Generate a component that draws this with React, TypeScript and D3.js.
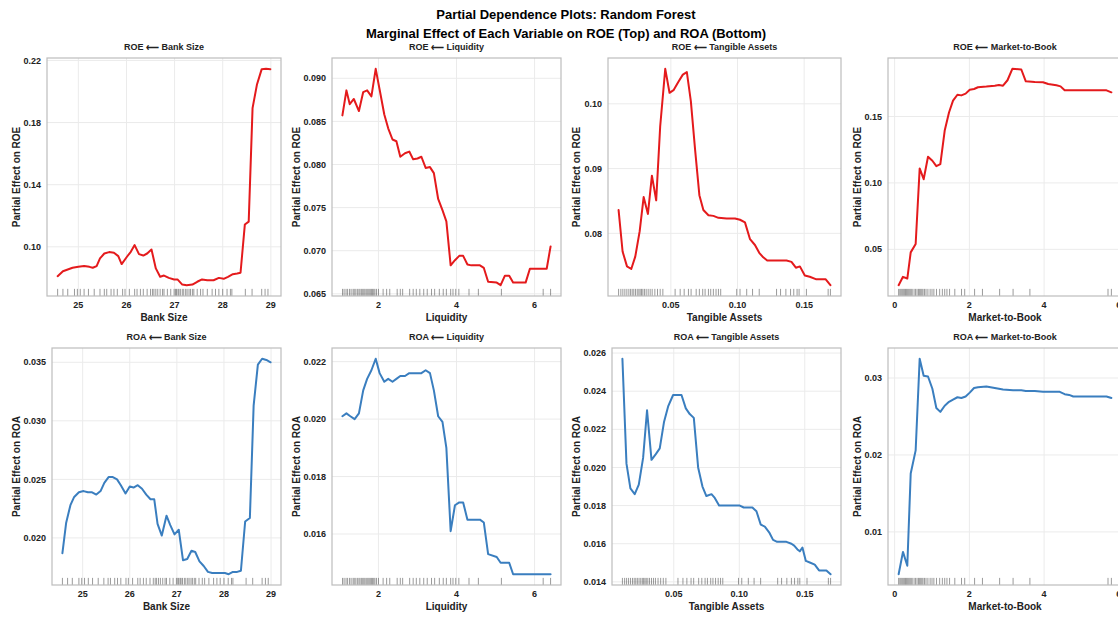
import * as d3 from 'd3';
import { useEffect, useRef } from 'react';

const W = 1118, H = 617;
const FONT = '"Liberation Sans", Arial, sans-serif';

// [grid value, partial effect]
const roeBankSize = [
  [24.57,0.0811],[24.68,0.0843],[24.78,0.0854],[24.88,0.0865],[25.0,0.0871],[25.12,0.0876],[25.23,0.0871],
  [25.30,0.0865],[25.38,0.0876],[25.45,0.0925],[25.54,0.0957],[25.64,0.0966],[25.74,0.0962],[25.83,0.0940],
  [25.90,0.0889],[26.01,0.0936],[26.09,0.0968],[26.17,0.1011],[26.26,0.0953],[26.35,0.0944],[26.43,0.0957],
  [26.52,0.0983],[26.61,0.0861],[26.70,0.0807],[26.78,0.0815],[26.88,0.0800],[26.99,0.0790],[27.06,0.0790],
  [27.16,0.0757],[27.25,0.0753],[27.37,0.0757],[27.47,0.0775],[27.57,0.0790],[27.68,0.0785],[27.81,0.0785],
  [27.92,0.0800],[28.02,0.0794],[28.11,0.0807],[28.21,0.0824],[28.30,0.0828],[28.37,0.0833],[28.46,0.1144],
  [28.54,0.1162],[28.62,0.1893],[28.71,0.2043],[28.81,0.2144],[28.90,0.2146],[28.99,0.2144],
];
const roeLiquidity = [
  [1.077,0.0857],[1.18,0.0886],[1.265,0.0870],[1.37,0.0876],[1.50,0.0862],[1.61,0.0884],[1.71,0.0886],
  [1.82,0.0879],[1.93,0.0911],[2.03,0.0887],[2.15,0.0858],[2.25,0.0842],[2.36,0.0829],[2.46,0.0827],
  [2.56,0.0809],[2.68,0.0813],[2.79,0.0815],[2.89,0.0806],[3.0,0.0807],[3.10,0.0809],[3.21,0.0796],
  [3.32,0.0797],[3.42,0.0790],[3.53,0.0760],[3.64,0.0747],[3.74,0.0734],[3.85,0.0683],[3.96,0.0689],
  [4.07,0.0694],[4.17,0.0694],[4.28,0.0684],[4.38,0.0683],[4.60,0.0683],[4.70,0.0680],[4.81,0.0664],
  [5.03,0.0663],[5.13,0.0660],[5.24,0.0671],[5.35,0.0671],[5.45,0.0663],[5.77,0.0663],[5.88,0.0679],
  [6.31,0.0679],[6.41,0.0705],
];
const roeTangible = [
  [0.0108,0.0836],[0.0138,0.0772],[0.0171,0.0749],[0.0203,0.0745],[0.0233,0.0764],[0.0266,0.0803],
  [0.0296,0.0856],[0.0328,0.0830],[0.0358,0.0889],[0.0390,0.0851],[0.0420,0.0965],[0.0458,0.1054],
  [0.0490,0.1017],[0.0520,0.1021],[0.0557,0.1034],[0.0590,0.1045],[0.0620,0.1049],[0.0650,0.1004],
  [0.0682,0.0929],[0.0714,0.0859],[0.0744,0.0836],[0.0782,0.0828],[0.0819,0.0827],[0.0857,0.0824],
  [0.0919,0.0823],[0.0981,0.0823],[0.1019,0.0821],[0.1056,0.0817],[0.1094,0.0791],[0.1131,0.0782],
  [0.1163,0.0770],[0.1193,0.0763],[0.1223,0.0758],[0.1293,0.0758],[0.1368,0.0758],[0.1405,0.0756],
  [0.1438,0.0747],[0.1468,0.0749],[0.1505,0.0735],[0.1542,0.0733],[0.1592,0.0729],[0.1662,0.0729],
  [0.1697,0.0720],
];
const roeMarketToBook = [
  [0.107,0.0230],[0.223,0.0293],[0.339,0.0280],[0.43,0.0477],[0.5625,0.0540],[0.67,0.1109],[0.777,0.1028],
  [0.893,0.1197],[1.01,0.1167],[1.116,0.1126],[1.223,0.1141],[1.34,0.1394],[1.455,0.1530],[1.5625,0.1619],
  [1.68,0.1664],[1.786,0.1659],[1.90,0.1672],[2.01,0.1702],[2.125,0.1707],[2.23,0.1720],[2.455,0.1725],
  [2.68,0.1732],[2.79,0.1737],[2.90,0.1732],[3.02,0.1773],[3.15,0.1859],[3.39,0.1854],[3.51,0.1765],
  [3.75,0.1760],[3.97,0.1758],[4.11,0.1745],[4.33,0.1735],[4.44,0.1727],[4.55,0.1697],[4.78,0.1697],
  [5.67,0.1697],[5.80,0.1682],
];
const roaBankSize = [
  [24.57,0.0187],[24.61,0.0200],[24.65,0.0213],[24.74,0.0228],[24.82,0.0235],[24.92,0.0239],[25.02,0.0240],
  [25.11,0.0239],[25.20,0.0239],[25.29,0.0237],[25.38,0.0240],[25.46,0.0247],[25.55,0.0252],[25.64,0.0252],
  [25.73,0.0250],[25.81,0.0245],[25.91,0.0238],[26.0,0.0244],[26.08,0.0243],[26.17,0.0245],[26.26,0.0242],
  [26.35,0.0237],[26.44,0.0233],[26.52,0.0233],[26.59,0.0212],[26.68,0.0202],[26.78,0.0219],[26.86,0.0211],
  [26.95,0.0203],[27.04,0.0207],[27.13,0.0181],[27.22,0.0182],[27.31,0.0189],[27.39,0.0188],[27.48,0.0180],
  [27.57,0.0176],[27.66,0.0171],[27.75,0.0170],[27.84,0.0170],[27.92,0.0170],[28.02,0.0170],[28.10,0.0169],
  [28.19,0.0171],[28.28,0.0171],[28.36,0.0172],[28.45,0.0214],[28.55,0.0217],[28.63,0.0313],[28.72,0.0348],
  [28.81,0.0353],[28.90,0.0352],[28.99,0.0350],
];
const roaLiquidity = [
  [1.077,0.0201],[1.18,0.0202],[1.28,0.0201],[1.39,0.0200],[1.50,0.0202],[1.61,0.0210],[1.71,0.0214],
  [1.82,0.0217],[1.93,0.0221],[2.03,0.0216],[2.15,0.0213],[2.25,0.0214],[2.36,0.0213],[2.46,0.0214],
  [2.56,0.0215],[2.68,0.0215],[2.79,0.0216],[2.89,0.0216],[3.0,0.0216],[3.10,0.0216],[3.21,0.0217],
  [3.32,0.0216],[3.42,0.0210],[3.53,0.0201],[3.64,0.0199],[3.74,0.0190],[3.85,0.0161],[3.96,0.0170],
  [4.07,0.0171],[4.17,0.0171],[4.28,0.0165],[4.38,0.0165],[4.60,0.0165],[4.70,0.0164],[4.81,0.0153],
  [5.03,0.0152],[5.13,0.0150],[5.35,0.0150],[5.45,0.0146],[5.77,0.0146],[5.88,0.0146],[6.41,0.0146],
];
const roaTangible = [
  [0.0108,0.0257],[0.0139,0.0202],[0.0169,0.0189],[0.0202,0.0186],[0.0233,0.0191],[0.0266,0.0205],
  [0.0296,0.0230],[0.0330,0.0204],[0.0363,0.0207],[0.0393,0.0210],[0.0426,0.0224],[0.0457,0.0232],
  [0.0495,0.0238],[0.0525,0.0238],[0.0559,0.0238],[0.0592,0.0231],[0.0622,0.0228],[0.0653,0.0226],
  [0.0686,0.0200],[0.0719,0.0190],[0.0749,0.0185],[0.0788,0.0186],[0.0813,0.0184],[0.0846,0.0180],
  [0.0902,0.0180],[0.0966,0.0180],[0.1004,0.0180],[0.1034,0.0179],[0.1067,0.0179],[0.1100,0.0179],
  [0.1131,0.0177],[0.1164,0.0170],[0.1195,0.0169],[0.1228,0.0166],[0.1258,0.0162],[0.1289,0.0161],
  [0.1360,0.0161],[0.1398,0.0160],[0.1419,0.0159],[0.1444,0.0157],[0.1462,0.0156],[0.1482,0.0158],
  [0.1508,0.0151],[0.1543,0.0150],[0.1576,0.0149],[0.1609,0.0146],[0.1665,0.0146],[0.1697,0.0144],
];
const roaMarketToBook = [
  [0.107,0.0045],[0.223,0.0074],[0.339,0.0056],[0.43,0.0176],[0.5625,0.0206],[0.67,0.0325],[0.777,0.0303],
  [0.893,0.0302],[1.01,0.0286],[1.116,0.0261],[1.223,0.0256],[1.34,0.0264],[1.455,0.0269],[1.5625,0.0272],
  [1.68,0.0275],[1.786,0.0274],[1.90,0.0276],[2.01,0.0281],[2.125,0.0287],[2.23,0.0288],[2.455,0.0289],
  [2.68,0.0287],[2.90,0.0285],[3.17,0.0284],[3.39,0.0284],[3.51,0.0283],[3.75,0.0283],[3.97,0.0282],
  [4.42,0.0282],[4.55,0.0279],[4.67,0.0278],[4.78,0.0276],[5.67,0.0276],[5.80,0.0274],
];

// observed values for the rug
const bankSizeObs = [24.57,24.68,24.78,24.92,24.98,25.04,25.12,25.21,25.33,25.45,25.54,25.59,25.68,25.74,
  25.81,25.92,25.97,26.06,26.17,26.22,26.29,26.35,26.43,26.50,26.54,26.57,26.61,26.65,26.70,26.75,26.78,
  26.85,26.92,26.99,27.02,27.04,27.07,27.09,27.12,27.16,27.19,27.23,27.26,27.30,27.33,27.37,27.40,27.47,
  27.54,27.59,27.68,27.78,27.85,27.92,28.0,28.09,28.16,28.19,28.47,28.61,28.81,28.88,28.94];
const liquidityObs = [1.08,1.12,1.17,1.21,1.26,1.30,1.35,1.38,1.42,1.46,1.50,1.53,1.57,1.60,1.63,1.66,1.70,
  1.73,1.76,1.79,1.82,1.85,1.88,1.91,1.95,2.0,2.12,2.21,2.29,2.48,2.56,2.62,2.80,2.89,2.97,3.06,3.16,3.25,
  3.36,3.44,3.56,3.66,3.74,3.85,3.91,3.98,4.06,4.32,4.56,5.15,6.22,6.41];
const tangibleObs = [0.0108,0.0125,0.014,0.0155,0.017,0.0185,0.0198,0.021,0.0222,0.0235,0.0248,0.026,0.027,
  0.028,0.029,0.0302,0.0315,0.033,0.0345,0.036,0.038,0.040,0.042,0.044,0.0532,0.057,0.060,0.0632,0.0652,
  0.069,0.0714,0.0739,0.0757,0.0782,0.0799,0.0819,0.0839,0.0857,0.0874,0.0994,0.1019,0.1069,0.1113,0.1163,
  0.1293,0.1323,0.1363,0.1398,0.1422,0.1447,0.1462,0.1517,0.1680,0.1697];
const mtbObs = [0.107,0.14,0.17,0.20,0.23,0.26,0.29,0.32,0.35,0.38,0.41,0.44,0.47,0.52,0.56,0.60,0.64,0.67,
  0.70,0.73,0.76,0.80,0.84,0.89,0.95,1.0,1.05,1.12,1.205,1.277,1.34,1.40,1.47,1.61,1.79,1.875,2.14,2.35,
  2.81,3.17,3.62,5.71,5.80];

const variables = ['Bank Size', 'Liquidity', 'Tangible Assets', 'Market-to-Book'];
const xTicks = [[25, 26, 27, 28, 29], [2, 4, 6], [0.05, 0.10, 0.15], [0, 2, 4, 6]];
const xFormats = ['d', 'd', '.2f', 'd'];
const roeYTicks = [[0.10, 0.14, 0.18, 0.22], [0.065, 0.070, 0.075, 0.080, 0.085, 0.090], [0.08, 0.09, 0.10], [0.05, 0.10, 0.15]];
const roaYTicks = [[0.020, 0.025, 0.030, 0.035], [0.016, 0.018, 0.020, 0.022], [0.014, 0.016, 0.018, 0.020, 0.022, 0.024, 0.026], [0.01, 0.02, 0.03]];
const roeYFormats = ['.2f', '.3f', '.2f', '.2f'];
const roaYFormats = ['.3f', '.3f', '.3f', '.2f'];

const rows = [
  { target: 'ROE', color: '#e41a1c', series: [roeBankSize, roeLiquidity, roeTangible, roeMarketToBook],
    ticks: roeYTicks, fmts: roeYFormats, lefts: [47, 332, 608, 888], top: 58, bottom: 296 },
  { target: 'ROA', color: '#3a7ebf', series: [roaBankSize, roaLiquidity, roaTangible, roaMarketToBook],
    ticks: roaYTicks, fmts: roaYFormats, lefts: [52, 332, 612, 888], top: 348, bottom: 585 },
];
const rights = [281, 561, 841, 1122];
const yLabelX = [16, 296, 576, 857];
const rugs = [bankSizeObs, liquidityObs, tangibleObs, mtbObs];

const padded = (vals: number[]) => {
  const [a, b] = d3.extent(vals) as [number, number];
  const m = (b - a) * 0.05;
  return [a - m, b + m];
};

const App = () => {
  const svgRef = useRef<SVGSVGElement>(null);

  useEffect(() => {
    const svg = d3.select(svgRef.current);
    svg.selectAll('*').remove();
    svg.append('rect').attr('width', W).attr('height', H).attr('fill', '#fff');

    svg.append('text').attr('x', 566).attr('y', 14).attr('dy', '0.35em').attr('text-anchor', 'middle')
      .attr('font-size', 13).attr('font-weight', 'bold').text('Partial Dependence Plots: Random Forest');
    svg.append('text').attr('x', 566).attr('y', 33).attr('dy', '0.35em').attr('text-anchor', 'middle')
      .attr('font-size', 13).attr('font-weight', 'bold')
      .text('Marginal Effect of Each Variable on ROE (Top) and ROA (Bottom)');

    rows.forEach(row => {
      variables.forEach((v, i) => {
        const data = row.series[i];
        const left = row.lefts[i], right = rights[i];
        const x = d3.scaleLinear().domain(padded(data.map(d => d[0]))).range([left, right]);
        const y = d3.scaleLinear().domain(padded(data.map(d => d[1]))).range([row.bottom, row.top]);
        const g = svg.append('g');

        // grid
        g.selectAll('.gx').data(xTicks[i]).join('line')
          .attr('x1', d => x(d)).attr('x2', d => x(d)).attr('y1', row.top).attr('y2', row.bottom)
          .attr('stroke', '#ebebeb').attr('stroke-width', 1);
        g.selectAll('.gy').data(row.ticks[i]).join('line')
          .attr('x1', left).attr('x2', right).attr('y1', d => y(d)).attr('y2', d => y(d))
          .attr('stroke', '#ebebeb').attr('stroke-width', 1);

        // rug
        const rugH = (row.bottom - row.top) * 0.03;
        g.selectAll('.rug').data(rugs[i]).join('line')
          .attr('x1', d => x(d)).attr('x2', d => x(d)).attr('y1', row.bottom).attr('y2', row.bottom - rugH)
          .attr('stroke', '#000').attr('stroke-opacity', 0.5).attr('stroke-width', 0.8);

        // curve
        g.append('path').datum(data)
          .attr('d', d3.line<number[]>().x(d => x(d[0])).y(d => y(d[1])))
          .attr('fill', 'none').attr('stroke', row.color).attr('stroke-width', 2)
          .attr('stroke-linejoin', 'round').attr('stroke-linecap', 'round');

        // spines
        g.append('rect').attr('x', left).attr('y', row.top).attr('width', right - left)
          .attr('height', row.bottom - row.top).attr('fill', 'none').attr('stroke', '#bdbdbd').attr('stroke-width', 1.2);

        // tick labels
        const xf = d3.format(xFormats[i]);
        g.selectAll('.xt').data(xTicks[i]).join('text')
          .attr('x', d => x(d)).attr('y', row.bottom + 9).attr('dy', '0.35em').attr('text-anchor', 'middle')
          .attr('font-size', 9).attr('font-weight', 'bold').attr('fill', '#222').text(d => xf(d));
        const yf = d3.format(row.fmts[i]);
        g.selectAll('.yt').data(row.ticks[i]).join('text')
          .attr('x', left - 6).attr('y', d => y(d)).attr('dy', '0.35em').attr('text-anchor', 'end')
          .attr('font-size', 9).attr('font-weight', 'bold').attr('fill', '#222').text(d => yf(d));

        // titles and axis labels
        g.append('text').attr('x', (left + right) / 2).attr('y', row.top - 11).attr('dy', '0.35em')
          .attr('text-anchor', 'middle').attr('font-size', 9).attr('font-weight', 'bold').attr('fill', '#222')
          .text(`${row.target} \u27F5 ${v}`);
        g.append('text').attr('x', (left + right) / 2).attr('y', row.bottom + 21).attr('dy', '0.35em')
          .attr('text-anchor', 'middle').attr('font-size', 10).attr('font-weight', 'bold').attr('fill', '#222')
          .text(v);
        const cy = (row.top + row.bottom) / 2;
        g.append('text').attr('transform', `translate(${yLabelX[i]},${cy}) rotate(-90)`).attr('dy', '0.35em')
          .attr('text-anchor', 'middle').attr('font-size', 10).attr('font-weight', 'bold').attr('fill', '#222')
          .text(`Partial Effect on ${row.target}`);
      });
    });
  }, []);

  return (
    <svg ref={svgRef} width={W} height={H} fontFamily={FONT}
      style={{ position: 'absolute', left: 0, top: 0, display: 'block' }} />
  );
};

export default App;
